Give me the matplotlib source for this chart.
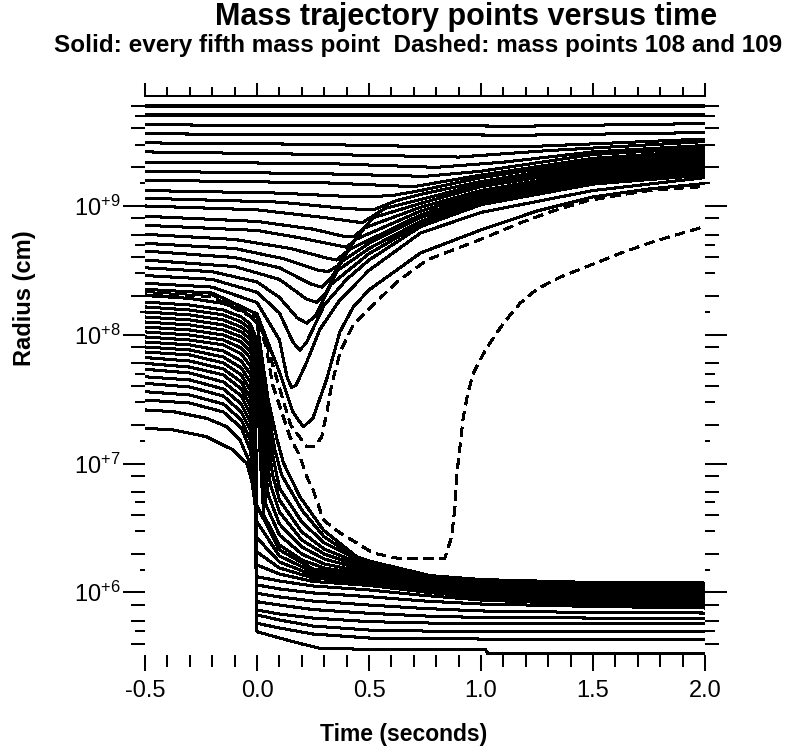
import numpy as np
import matplotlib
matplotlib.use("Agg")
import matplotlib.pyplot as plt

plt.rcParams['font.family'] = ['Liberation Sans', 'DejaVu Sans']
plt.rcParams['mathtext.fontset'] = 'custom'
plt.rcParams['mathtext.rm'] = 'Liberation Sans'
plt.rcParams['mathtext.bf'] = 'Liberation Sans:bold'

# ---------------------------------------------------------------------------
# Mass-point trajectories: time (s) and log10 radius (cm)
# ---------------------------------------------------------------------------

# Outer envelope: shells that barely move during the run
envelope_t = [-0.5, 1.2, 2.0]
envelope_log_r = [
    [9.78, 9.78, 9.78],
    [9.71, 9.71, 9.71],
    [9.63, 9.62, 9.64],
    [9.56, 9.55, 9.57],
]

# Shells overtaken by the outgoing shock and then expelled
ejected = [
    ([-0.5, 0.2, 0.8, 1.2, 1.6, 2.0], [9.49, 9.48, 9.46, 9.46, 9.49, 9.52]),
    ([-0.5, 0.3, 0.9, 1.3, 2.0], [9.42, 9.40, 9.38, 9.43, 9.50]),
    ([-0.5, 0.3, 0.8, 1.1, 1.5, 2.0], [9.34, 9.33, 9.30, 9.34, 9.42, 9.47]),
    ([-0.5, 0.3, 0.75, 1.0, 1.5, 2.0], [9.27, 9.25, 9.23, 9.27, 9.40, 9.45]),
    ([-0.5, 0.3, 0.7, 1.0, 1.5, 2.0], [9.20, 9.18, 9.15, 9.24, 9.37, 9.43]),
    ([-0.5, 0.1, 0.45, 0.6, 0.73, 1.0, 1.5, 2.0],
     [9.12, 9.10, 9.07, 9.08, 9.12, 9.22, 9.35, 9.41]),
    ([-0.5, 0.1, 0.4, 0.52, 0.62, 0.73, 1.0, 1.5, 2.0],
     [9.06, 9.03, 8.98, 8.97, 9.04, 9.09, 9.19, 9.33, 9.39]),
    ([-0.5, 0.0, 0.3, 0.47, 0.57, 0.73, 1.0, 1.5, 2.0],
     [9.00, 8.97, 8.91, 8.87, 8.98, 9.05, 9.17, 9.31, 9.37]),
    ([-0.5, 0.0, 0.25, 0.38, 0.43, 0.47, 0.52, 0.73, 1.0, 1.5, 2.0],
     [8.92, 8.88, 8.82, 8.767, 8.76, 8.814, 8.91, 9.02, 9.15, 9.29, 9.35]),
    ([-0.5, 0.0, 0.2, 0.35, 0.40, 0.44, 0.48, 0.73, 1.0, 1.5, 2.0],
     [8.85, 8.81, 8.75, 8.697, 8.68, 8.736, 8.83, 8.99, 9.12, 9.27, 9.33]),
    ([-0.5, -0.1, 0.15, 0.31, 0.355, 0.40, 0.44, 0.73, 1.0, 1.5, 2.0],
     [8.78, 8.74, 8.67, 8.596, 8.58, 8.643, 8.74, 8.96, 9.10, 9.25, 9.31]),
    ([-0.5, -0.1, 0.12, 0.27, 0.317, 0.36, 0.41, 0.73, 1.0, 1.5, 2.0],
     [8.71, 8.67, 8.59, 8.503, 8.49, 8.534, 8.66, 8.93, 9.08, 9.23, 9.30]),
    ([-0.5, -0.1, 0.1, 0.24, 0.289, 0.33, 0.38, 0.5, 0.73, 1.0, 1.5, 2.0],
     [8.65, 8.60, 8.52, 8.394, 8.37, 8.441, 8.57, 8.71, 8.91, 9.06, 9.22, 9.28]),
    ([-0.5, -0.1, 0.1, 0.22, 0.267, 0.31, 0.36, 0.5, 0.73, 1.0, 1.5, 2.0],
     [8.58, 8.53, 8.43, 8.278, 8.25, 8.332, 8.50, 8.67, 8.88, 9.05, 9.20, 9.26]),
    ([-0.5, -0.2, 0.0, 0.1, 0.18, 0.222, 0.26, 0.33, 0.5, 0.73, 1.0, 1.5, 2.0],
     [8.52, 8.49, 8.41, 8.29, 8.130, 8.09, 8.146, 8.39, 8.63, 8.86, 9.03, 9.19, 9.25]),
    ([-0.5, -0.2, 0.0, 0.1, 0.16, 0.19, 0.22, 0.3, 0.4, 0.5, 0.73, 1.0, 1.5, 2.0],
     [8.46, 8.43, 8.33, 8.17, 7.944, 7.88, 7.936, 8.23, 8.43, 8.58, 8.84, 9.01, 9.17, 9.24]),
    ([-0.5, -0.2, 0.0, 0.1, 0.135, 0.155, 0.175, 0.22, 0.28, 0.37, 0.5, 0.73, 1.0, 1.5, 2.0],
     [8.40, 8.37, 8.25, 7.96, 7.664, 7.59, 7.610, 7.78, 8.04, 8.27, 8.50, 8.79, 8.95, 9.12, 9.22]),
    ([-0.5, -0.2, 0.0, 0.1, 0.16, 0.207, 0.25, 0.31, 0.37, 0.43, 0.5, 0.73,
      1.0, 1.25, 1.5, 1.75, 2.0],
     [8.353, 8.324, 8.161, 7.711, 7.400, 7.284, 7.354, 7.649, 8.022, 8.216,
      8.348, 8.635, 8.814, 8.961, 9.070, 9.132, 9.175]),
]

# Mass point 108 (dashed)
mp108_t = [-0.5, -0.2, 0.0, 0.04, 0.07, 0.15, 0.222, 0.259, 0.289, 0.311,
           0.333, 0.371, 0.429, 0.518, 0.625, 0.759, 0.875, 1.025, 1.174,
           1.321, 1.472, 1.621, 1.768, 2.0]
mp108_log_r = [8.338, 8.309, 8.138, 7.951, 7.765, 7.299, 7.131, 7.131, 7.208,
               7.392, 7.610, 7.866, 8.076, 8.231, 8.410, 8.581, 8.658, 8.759,
               8.868, 8.961, 9.039, 9.085, 9.124, 9.151]

# Mass point 109 (dashed)
mp109_t = [-0.5, -0.2, 0.0, 0.04, 0.07, 0.147, 0.192, 0.222, 0.251, 0.296,
           0.371, 0.445, 0.518, 0.624, 0.839, 0.869, 0.884, 0.891, 0.906,
           0.921, 0.943, 0.966, 0.996, 1.025, 1.1, 1.174, 1.25, 1.35, 1.472,
           1.622, 1.769, 2.0]
mp109_log_r = [8.324, 8.293, 8.115, 7.913, 7.610, 7.208, 7.053, 6.898, 6.795,
               6.562, 6.461, 6.383, 6.305, 6.266, 6.266, 6.432, 6.665, 6.898,
               7.131, 7.364, 7.558, 7.701, 7.804, 7.897, 8.089, 8.244, 8.355,
               8.445, 8.529, 8.633, 8.723, 8.841]

# Shells that fall onto the proto-neutron star (outermost first)
t_late = [-0.5, -0.3, -0.15, -0.07, -0.03]
accreted = [
    (t_late + [0.0, 0.05, 0.09, 0.118, 0.192, 0.296, 0.445, 0.5, 0.772, 1.0, 1.5, 2.0],
     [8.305, 8.282, 8.243, 8.192, 8.146, 8.091, 7.493, 7.183, 7.004, 6.740,
      6.484, 6.276, 6.243, 6.130, 6.099, 6.076, 6.072]),
    (t_late + [0.0, 0.045, 0.08, 0.11, 0.2, 0.3, 0.45, 0.5, 0.75, 1.0, 1.5, 2.0],
     [8.254, 8.231, 8.192, 8.138, 8.084, 7.959, 7.455, 7.105, 6.911, 6.639,
      6.430, 6.259, 6.228, 6.123, 6.088, 6.068, 6.061]),
    (t_late + [0.0, 0.04, 0.07, 0.1, 0.2, 0.3, 0.5, 0.75, 1.0, 1.5, 2.0],
     [8.216, 8.192, 8.154, 8.099, 8.045, 7.913, 7.416, 7.066, 6.810, 6.546,
      6.383, 6.212, 6.119, 6.076, 6.057, 6.049]),
    (t_late + [0.0, 0.035, 0.07, 0.1, 0.2, 0.3, 0.5, 0.75, 1.0, 1.5, 2.0],
     [8.177, 8.154, 8.115, 8.060, 8.006, 7.866, 7.338, 6.911, 6.717, 6.468,
      6.336, 6.197, 6.107, 6.064, 6.045, 6.037]),
    (t_late + [0.0, 0.03, 0.06, 0.1, 0.2, 0.3, 0.5, 0.75, 1.0, 1.5, 2.0],
     [8.138, 8.115, 8.076, 8.022, 7.967, 7.820, 7.260, 6.833, 6.624, 6.406,
      6.297, 6.181, 6.096, 6.053, 6.033, 6.026]),
    (t_late + [0.0, 0.025, 0.05, 0.1, 0.2, 0.3, 0.5, 0.75, 1.0, 1.5, 2.0],
     [8.099, 8.076, 8.037, 7.983, 7.921, 7.765, 7.183, 6.756, 6.531, 6.352,
      6.259, 6.165, 6.084, 6.041, 6.022, 6.014]),
    (t_late + [0.0, 0.02, 0.04, 0.1, 0.2, 0.3, 0.5, 0.75, 1.0, 1.5, 2.0],
     [8.060, 8.037, 7.998, 7.944, 7.874, 7.711, 7.105, 6.678, 6.445, 6.297,
      6.220, 6.150, 6.072, 6.030, 6.006, 5.998]),
    (t_late + [0.0, 0.015, 0.03, 0.1, 0.2, 0.3, 0.5, 0.75, 1.0, 1.5, 2.0],
     [8.022, 7.998, 7.959, 7.897, 7.820, 7.649, 7.027, 6.600, 6.367, 6.251,
      6.189, 6.134, 6.061, 6.018, 5.991, 5.983]),
]

# Inner shells that have collapsed by the time of bounce (t = 0)
t_core = [-0.5, -0.3, -0.15, -0.07, -0.03, -0.01, 0.0, 0.1, 0.25, 0.5, 0.75,
          1.0, 1.5, 2.0]
core_log_r = [
    [7.983, 7.959, 7.921, 7.851, 7.757, 7.649, 6.670, 6.329, 6.181, 6.119, 6.049, 6.006, 5.975, 5.967],
    [7.944, 7.921, 7.874, 7.796, 7.695, 7.571, 6.546, 6.282, 6.158, 6.103, 6.037, 5.995, 5.960, 5.952],
    [7.905, 7.882, 7.827, 7.742, 7.633, 7.493, 6.422, 6.235, 6.134, 6.088, 6.026, 5.983, 5.944, 5.936],
    [7.866, 7.843, 7.781, 7.688, 7.571, 7.416, 6.313, 6.189, 6.111, 6.072, 6.014, 5.971, 5.929, 5.921],
    [7.823, 7.796, 7.734, 7.633, 7.509, 7.338, 6.212, 6.142, 6.084, 6.053, 6.002, 5.960, 5.917, 5.905],
    [7.778, 7.749, 7.688, 7.579, 7.447, 7.260, 6.121, 6.088, 6.049, 6.018, 5.975, 5.940, 5.905, 5.894],
    [7.732, 7.703, 7.633, 7.524, 7.385, 7.183, 6.057, 6.026, 5.995, 5.966, 5.932, 5.909, 5.890, 5.878],
    [7.674, 7.649, 7.579, 7.462, 7.323, 7.105, 5.992, 5.964, 5.932, 5.901, 5.874, 5.855, 5.843, 5.839],
    [7.623, 7.594, 7.524, 7.400, 7.260, 7.027, 5.927, 5.901, 5.866, 5.837, 5.816, 5.804, 5.800, 5.800],
]

# Innermost shells
innermost = [
    ([-0.5, -0.3, -0.15, -0.07, -0.03, -0.01, -0.003, 0.0, 0.1, 0.25, 0.5, 0.75, 1.0, 2.0],
     [7.558, 7.532, 7.462, 7.338, 7.183, 6.950, 6.717, 5.863, 5.831, 5.800, 5.772, 5.762, 5.754, 5.754]),
    ([-0.5, -0.3, -0.15, -0.07, -0.03, -0.012, -0.004, 0.0, 0.1, 0.25, 0.5, 0.75, 1.0, 2.0],
     [7.493, 7.470, 7.400, 7.276, 7.105, 6.888, 6.678, 5.824, 5.785, 5.738, 5.707, 5.699, 5.694, 5.694]),
    ([-0.5, -0.375, -0.225, -0.135, -0.076, -0.031, -0.017, -0.006, 0.0, 0.1, 0.25, 0.5, 0.75, 1.0, 2.0],
     [7.416, 7.403, 7.351, 7.286, 7.183, 7.002, 6.872, 6.678, 5.759, 5.723, 5.676, 5.645, 5.641, 5.637, 5.637]),
    ([-0.5, -0.37, -0.225, -0.106, -0.046, -0.024, -0.009, 0.0, 0.1, 0.2, 0.28, 0.5, 1.02, 1.03, 2.0],
     [7.274, 7.260, 7.208, 7.105, 7.002, 6.872, 6.693, 5.694, 5.645, 5.599, 5.565, 5.557, 5.557, 5.525, 5.525]),
]

# Axis ticks
x_major = [-0.5, 0.0, 0.5, 1.0, 1.5, 2.0]
x_labels = ['-0.5', '0.0', '0.5', '1.0', '1.5', '2.0']
y_decades = [6, 7, 8, 9]
y_labels = [r'$\mathregular{10^{+%d}}$' % d for d in y_decades]

# ---------------------------------------------------------------------------
W, H = 793, 751
fig = plt.figure(figsize=(W / 100, H / 100), dpi=100)
ax = fig.add_axes([145 / W, 96 / H, 560 / W, 559 / H])
ax.set_yscale('log')
ax.set_xlim(-0.5, 2.0)
YMIN, YMAX = 10 ** 5.513, 10 ** 9.854
ax.set_ylim(YMIN, YMAX)

LW = 1.45
line_kw = dict(color='black', lw=LW, solid_joinstyle='round',
               solid_capstyle='butt', antialiased=False, zorder=2)
dash_kw = dict(color='black', lw=LW, dash_capstyle='butt',
               antialiased=False, zorder=1.9)


def radius(log_r):
    return np.power(10.0, np.asarray(log_r, dtype=float))


ax.plot(mp108_t, radius(mp108_log_r), linestyle=(0, (4.5, 3.0)), **dash_kw)
ax.plot(mp109_t, radius(mp109_log_r), linestyle=(3.75, (4.5, 3.0)), **dash_kw)
for lr in envelope_log_r:
    ax.plot(envelope_t, radius(lr), **line_kw)
for t, lr in ejected + accreted + innermost:
    ax.plot(t, radius(lr), **line_kw)
for lr in core_log_r:
    ax.plot(t_core, radius(lr), **line_kw)

# Frame: only the top rule is drawn
for side in ('left', 'right', 'bottom'):
    ax.spines[side].set_visible(False)
ax.spines['top'].set_linewidth(LW)

# x axis: labelled ticks below, short ticks above the top rule
ax.set_xticks(x_major)
ax.set_xticklabels(x_labels)
ax.set_xticks(np.arange(-0.5, 2.001, 0.1), minor=True)
ax.tick_params(axis='x', which='major', direction='out', length=11.5, width=LW,
               pad=6.5, labelsize=17, top=False)
ax.tick_params(axis='x', which='minor', direction='out', length=8.6, width=LW, top=False)

top = ax.secondary_xaxis('top')
top.set_xticks(x_major)
top.set_xticks(np.arange(-0.5, 2.001, 0.1), minor=True)
top.tick_params(axis='x', which='major', direction='out', length=9.4, width=LW, labeltop=False)
top.tick_params(axis='x', which='minor', direction='out', length=6.5, width=LW, labeltop=False)
top.spines['top'].set_visible(False)

# y axis: decades labelled, mantissa ticks of graded length on both sides
ax.set_yticks([10.0 ** d for d in y_decades])
ax.set_yticklabels(y_labels)
ax.set_yticks([m * 10.0 ** d for d in range(5, 10) for m in (2, 4, 6, 8)
               if YMIN < m * 10.0 ** d < YMAX], minor=True)
ax.yaxis.set_minor_formatter(matplotlib.ticker.NullFormatter())
ax.tick_params(axis='y', which='major', direction='out', length=15.8, width=LW,
               left=True, right=True, labelleft=True, labelright=False,
               pad=1.5, labelsize=17)
ax.tick_params(axis='y', which='minor', direction='out', length=10.0, width=LW,
               left=True, right=True)

ytr = ax.get_yaxis_transform()
for mant, frac in ((3, 0.0178), (5, 0.0178), (1.5, 0.0089)):
    for d in range(5, 10):
        v = mant * 10.0 ** d
        if YMIN < v < YMAX:
            ax.plot([-frac, 0], [v, v], transform=ytr, clip_on=False,
                    color='black', lw=LW, solid_capstyle='butt')
            ax.plot([1, 1 + frac], [v, v], transform=ytr, clip_on=False,
                    color='black', lw=LW, solid_capstyle='butt')

# Titles and axis names
fig.text(466 / W, 1 - 25 / H, 'Mass trajectory points versus time',
         ha='center', va='baseline', fontsize=22, fontweight='bold')
fig.text(418 / W, 1 - 52 / H,
         'Solid: every fifth mass point  Dashed: mass points 108 and 109',
         ha='center', va='baseline', fontsize=17.5, fontweight='bold')
fig.text(24 / W, 1 - 298 / H, 'Radius (cm)', rotation=90, ha='center',
         va='center', fontsize=17, fontweight='bold')
fig.text(404 / W, 1 - 735 / H, 'Time (seconds)', ha='center', va='center',
         fontsize=16.5, fontweight='bold')

fig.savefig('out.png', dpi=100)
